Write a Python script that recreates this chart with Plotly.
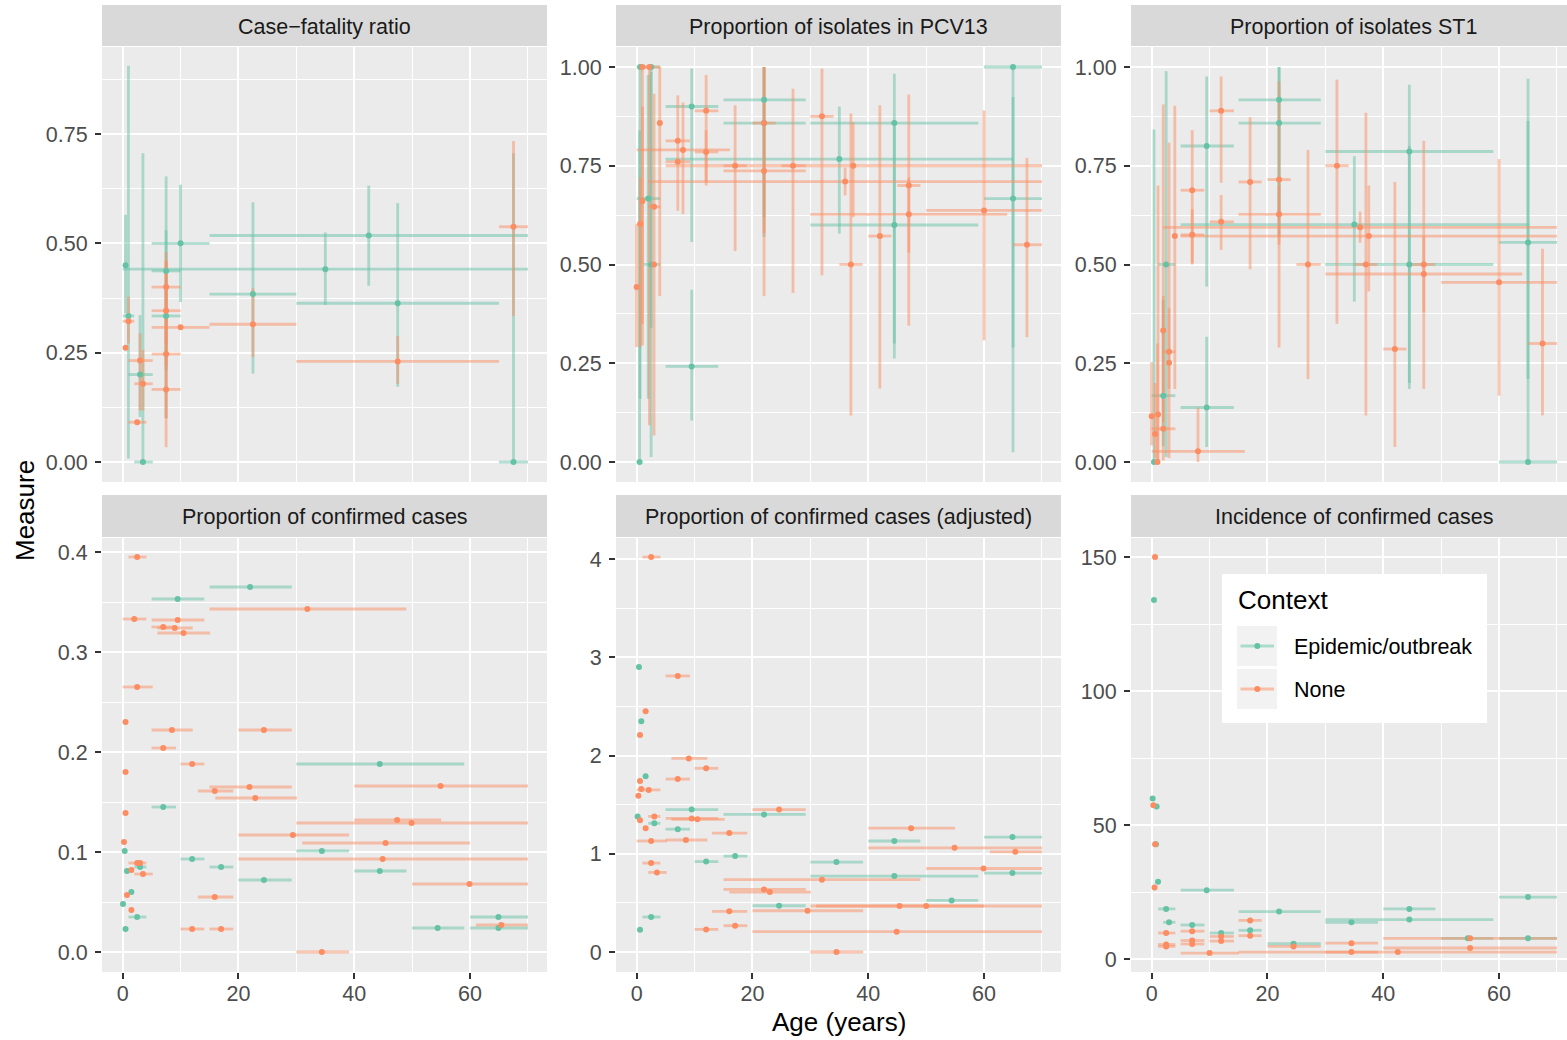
import plotly.graph_objects as go

W, H = 1567, 1040
TEAL = "#66C2A5"
ORANGE = "#FC8D62"
TEAL_A = "rgba(102,194,165,0.5)"
ORANGE_A = "rgba(252,141,98,0.5)"
FONT = "Liberation Sans, Arial, Helvetica, sans-serif"

# ---------------- data: (age, age_lo, age_hi, value, ci_lo, ci_hi) ----------------
panel_titles = ["Case\u2212fatality ratio", "Proportion of isolates in PCV13", "Proportion of isolates ST1",
                "Proportion of confirmed cases", "Proportion of confirmed cases (adjusted)",
                "Incidence of confirmed cases"]
context_labels = ["Epidemic/outbreak", "None"]

cfr_epi = [
    (0.5, None, None, 0.45, 0.34, 0.565), (1.0, 0, 2, 0.334, 0.008, 0.906),
    (3.5, 2, 5.2, 0.0, 0.0, 0.706), (3.0, 1, 5.2, 0.2, 0.103, 0.336),
    (7.5, 5, 10, 0.437, 0.21, 0.653), (7.5, 5, 10, 0.334, 0.1, 0.53),
    (10.0, 5, 15, 0.5, 0.366, 0.634), (22.5, 15, 30, 0.384, 0.202, 0.594),
    (35.0, 0, 70, 0.441, 0.359, 0.525), (42.5, 15, 70, 0.518, 0.403, 0.632),
    (47.5, 30, 65, 0.363, 0.172, 0.592), (67.5, 65, 70, 0.0, 0.0, 0.706),
]
cfr_none = [
    (0.5, None, None, 0.261, None, None), (1.0, 0, 2, 0.322, 0.271, 0.378),
    (2.5, 1, 4.1, 0.091, None, None), (3.0, 1, 5.2, 0.232, 0.118, 0.294),
    (3.5, 2, 5.2, 0.179, 0.118, 0.256), (7.5, 5, 10, 0.4, 0.27, 0.48),
    (7.5, 5, 10, 0.346, 0.22, 0.46), (7.5, 5, 10, 0.247, 0.1, 0.4),
    (7.5, 5, 10, 0.166, 0.034, 0.46), (10.0, 5, 15, 0.308, None, None),
    (22.5, 15, 30, 0.315, 0.24, 0.397), (47.5, 30, 65, 0.23, 0.179, 0.288),
    (67.5, 65, 70, 0.538, 0.334, 0.734),
]
pcv_epi = [
    (0.5, None, None, 0.0, 0.0, 0.84), (0.6, None, None, 1.0, 0.16, 1.0),
    (2.5, 1.2, 4.0, 1.0, 0.34, 1.0), (2.0, 0, 4.1, 0.667, 0.16, 0.98),
    (2.5, 1.2, 4.1, 0.5, 0.013, 0.987), (9.5, 5, 14.1, 0.9, 0.557, 0.996),
    (9.5, 5, 14.1, 0.242, 0.105, 0.436), (22.0, 15, 29.2, 0.917, 0.62, 1.0),
    (22.0, 15, 29.2, 0.858, 0.57, 1.0), (35.0, 5, 65, 0.767, 0.578, 0.9),
    (44.5, 30, 59, 0.858, 0.262, 0.983), (44.5, 30, 59, 0.6, 0.3, 0.85),
    (65.0, 60, 70, 1.0, 0.29, 1.0), (65.0, 60, 70, 0.667, 0.025, 0.924),
]
pcv_none = [
    (0.0, None, None, 0.443, 0.291, 0.603), (0.6, None, None, 0.603, 0.29, 0.72),
    (1.0, None, None, 1.0, 0.295, 1.0), (1.0, None, None, 0.661, 0.35, 0.9),
    (2.2, 0, 4.1, 1.0, 0.093, 1.0), (3.0, 2, 4.1, 0.646, 0.067, 0.932),
    (3.0, None, None, 0.5, None, None), (4.0, None, None, 0.858, 0.42, 1.0),
    (7.1, 5, 9.2, 0.813, 0.636, 0.928), (8.0, 0, 16.1, 0.79, 0.628, 0.91),
    (7.1, 5, 9.2, 0.76, None, None), (12.0, 10, 14.1, 0.889, 0.7, 0.98),
    (12.0, 10, 14.1, 0.785, 0.709, 0.84), (17.0, 15, 19, 0.75, 0.534, 0.903),
    (22.0, 15, 29.2, 0.737, 0.42, 1.0), (22.0, 20, 24, 0.858, 0.58, 1.0),
    (27.0, 25, 29.2, 0.75, 0.428, 0.945), (32.0, 30, 34, 0.875, 0.473, 0.996),
    (36.0, 2, 70, 0.71, 0.675, 0.745), (37.4, 5, 70, 0.75, 0.62, 0.86),
    (37.0, 35, 39, 0.5, 0.118, 0.882), (42.0, 40, 44, 0.572, 0.186, 0.903),
    (47.0, 45, 49, 0.7, 0.345, 0.93), (47.0, 30, 64, 0.627, 0.53, 0.72),
    (60.0, 50, 70, 0.637, 0.308, 0.89), (67.4, 65, 70, 0.55, 0.316, 0.77),
]
st1_epi = [
    (0.4, None, None, 0.0, 0.0, 0.842), (2.0, 0, 4.1, 0.168, 0.04, 0.41),
    (2.5, 1.1, 4.1, 0.5, 0.013, 0.989), (9.5, 5, 14.2, 0.8, 0.444, 0.976),
    (9.5, 5, 14.2, 0.138, 0.038, 0.317), (22.0, 15, 29.2, 0.917, 0.62, 1.0),
    (22.0, 15, 29.2, 0.858, 0.57, 1.0), (35.0, 5, 65.2, 0.601, 0.406, 0.774),
    (44.5, 30, 59, 0.786, 0.185, 0.955), (44.5, 30, 59, 0.5, 0.2, 0.8),
    (65.0, 60, 70, 0.556, 0.21, 0.863), (65.0, 60, 70, 0.0, 0.0, 0.97),
]
st1_none = [
    (0.0, None, None, 0.116, 0.042, 0.253), (0.6, None, None, 0.071, 0.01, 0.2),
    (1.1, None, None, 0.12, 0.0, 0.7), (1.0, None, None, 0.0, 0.0, 0.3),
    (2.0, None, None, 0.333, 0.1, 0.42), (2.0, 0, 4.1, 0.084, 0.004, 0.905),
    (3.0, 2, 4.1, 0.279, 0.185, 0.39), (3.0, None, None, 0.251, 0.01, 0.808),
    (4.0, None, None, 0.572, 0.185, 0.902), (7.0, 5, 9.1, 0.688, 0.503, 0.84),
    (7.0, 5, 9.1, 0.575, 0.5, 0.64), (12.0, 10, 14.2, 0.889, 0.707, 0.976),
    (12.0, 10, 14.2, 0.608, 0.537, 0.676), (17.0, 15, 19, 0.709, 0.488, 0.873),
    (22.0, 20, 24, 0.715, 0.29, 0.964), (22.0, 15, 29.2, 0.627, 0.55, 0.7),
    (27.0, 25, 29.2, 0.5, 0.21, 0.79), (32.0, 30, 34, 0.75, 0.35, 0.968),
    (36.0, 2, 70, 0.594, 0.555, 0.634), (37.5, 5, 70, 0.572, 0.432, 0.7),
    (37.0, 35, 39, 0.5, 0.118, 0.884), (42.0, 40, 44, 0.286, 0.038, 0.709),
    (47.0, 45, 49, 0.5, 0.185, 0.813), (47.0, 30, 64, 0.476, 0.38, 0.57),
    (60.0, 50, 70, 0.455, 0.168, 0.767), (67.5, 65, 70, 0.3, 0.118, 0.54),
    (8.0, 0, 16.1, 0.027, 0.0, 0.138),
]
prop_epi = [
    (22.0, 15, 29.2, 0.365), (9.5, 5, 14.1, 0.353), (44.4, 30, 59, 0.188),
    (7.0, 5, 9.2, 0.145), (0.35, None, None, 0.101), (34.4, 30, 39.1, 0.101),
    (12.0, 10, 14.1, 0.093), (17.0, 15, 19.1, 0.085), (3.0, 2, 4.1, 0.085),
    (0.75, None, None, 0.081), (44.4, 40, 49, 0.081), (24.4, 20, 29.2, 0.072),
    (1.5, None, None, 0.06), (0.06, None, None, 0.048), (2.5, 1, 4.1, 0.035),
    (0.5, None, None, 0.023), (54.4, 50, 59, 0.024), (64.9, 60, 70, 0.035),
    (64.9, 60, 70, 0.024),
]
prop_none = [
    (2.5, 1, 4.1, 0.395), (31.9, 15, 49, 0.343), (2.0, 0, 4.1, 0.333),
    (9.5, 5, 14.1, 0.332), (7.0, 5, 9.2, 0.325), (9.0, 6, 12.1, 0.324),
    (10.5, 6, 15.1, 0.319), (2.5, 0, 5.2, 0.265), (0.5, None, None, 0.23),
    (8.5, 5, 12.1, 0.222), (24.4, 20, 29.2, 0.222), (7.0, 5, 9.2, 0.204),
    (12.0, 10, 14.1, 0.188), (0.5, None, None, 0.18), (21.9, 15, 29.2, 0.165),
    (15.9, 13, 19.1, 0.161), (54.9, 40, 70, 0.166), (22.9, 16, 30.1, 0.154),
    (0.5, None, None, 0.139), (47.4, 40, 55, 0.132), (49.9, 30, 70, 0.129),
    (29.4, 20, 39.1, 0.117), (45.4, 31, 60, 0.109), (0.23, None, None, 0.11),
    (44.9, 20, 70, 0.093), (3.0, 1, 4.1, 0.089), (2.5, None, None, 0.089),
    (1.5, None, None, 0.082), (3.5, 2, 5.2, 0.078), (0.75, None, None, 0.057),
    (15.9, 13, 19.1, 0.055), (59.9, 50, 70, 0.068), (1.5, None, None, 0.042),
    (12.0, 10, 14.1, 0.023), (17.0, 15, 19.1, 0.023), (65.4, 61, 70, 0.027),
    (34.4, 30, 39.1, 0.0),
]
adj_epi = [
    (0.4, None, None, 2.9), (0.8, None, None, 2.35), (1.55, None, None, 1.79),
    (9.5, 5, 14.1, 1.45), (22.0, 15, 29.2, 1.4), (0.17, None, None, 1.38),
    (3.05, 2, 4.1, 1.31), (7.1, 5, 9.2, 1.25), (64.9, 60, 70, 1.17),
    (44.5, 40, 49, 1.13), (17.0, 15, 19.1, 0.976), (12.0, 10, 14.1, 0.92),
    (34.5, 30, 39.1, 0.915), (44.5, 30, 59, 0.773), (64.9, 60, 70, 0.803),
    (54.4, 50, 59, 0.525), (24.6, 20, 29.2, 0.471), (2.5, 1, 4.1, 0.356),
    (0.58, None, None, 0.227),
]
adj_none = [
    (2.5, 1, 4.1, 4.02), (7.1, 5, 9.2, 2.81), (1.55, None, None, 2.45),
    (0.58, None, None, 2.21), (9.0, 6, 12.2, 1.97), (12.0, 10, 14.1, 1.87),
    (7.1, 5, 9.2, 1.76), (0.58, None, None, 1.74), (0.8, None, None, 1.66),
    (2.07, 0, 4.1, 1.65), (0.29, None, None, 1.59), (24.6, 20, 29.2, 1.45),
    (3.05, 2, 4.1, 1.38), (9.5, 5, 14.1, 1.36), (10.5, 6, 15.2, 1.35),
    (0.58, None, None, 1.34), (1.55, None, None, 1.26), (16.0, 13, 19.1, 1.21),
    (47.4, 40, 55, 1.26), (2.5, 0, 5.2, 1.13), (8.5, 5, 12.2, 1.14),
    (54.9, 40, 70, 1.06), (65.4, 61, 70, 1.02), (2.5, 1, 4.1, 0.905),
    (3.5, 2, 5.2, 0.81), (59.9, 50, 70, 0.85), (32.0, 15, 49, 0.736),
    (22.0, 15, 29.2, 0.637), (23.0, 16, 30.1, 0.61), (29.5, 20, 39.1, 0.42),
    (45.4, 31, 60, 0.468), (50.0, 30, 70, 0.468), (16.0, 13, 19.1, 0.414),
    (17.0, 15, 19.1, 0.268), (12.0, 10, 14.1, 0.23), (44.9, 20, 70, 0.207),
    (34.5, 30, 39.1, 0.0),
]
inc_epi = [
    (0.4, None, None, 134), (0.17, None, None, 59.9), (0.86, None, None, 56.9),
    (0.75, None, None, 42.8), (1.1, None, None, 28.8), (2.5, 1.1, 4.1, 18.7),
    (3.0, 2, 4.1, 13.7), (7.0, 5, 9.1, 12.7), (12.0, 10, 14.2, 9.7),
    (9.5, 5, 14.2, 25.7), (17.0, 15, 19, 10.7), (22.0, 15, 29.2, 17.7),
    (24.5, 20, 29.2, 5.7), (34.5, 30, 39.1, 13.7), (44.5, 40, 49, 18.7),
    (44.5, 30, 59, 14.7), (54.6, 50, 59, 7.7), (65.0, 60, 70, 23.1),
    (65.0, 60, 70, 7.7),
]
inc_none = [
    (0.58, None, None, 150), (0.29, None, None, 57.4), (0.6, None, None, 42.8),
    (0.5, None, None, 26.7), (2.5, 1.1, 4.1, 9.7), (2.5, 1.1, 4.1, 5.4),
    (2.5, 1.1, 4.1, 4.7), (7.0, 5, 9.1, 10.4), (7.0, 5, 9.1, 6.9),
    (7.0, 5, 9.1, 5.6), (12.0, 10, 14.2, 8.4), (12.0, 10, 14.2, 6.7),
    (10.0, 5, 15.1, 2.2), (17.0, 15, 19, 14.4), (17.0, 15, 19, 8.7),
    (24.5, 20, 29.2, 4.7), (34.5, 30, 39.1, 5.9), (34.5, 30, 39.1, 2.6),
    (42.5, 15, 70, 2.6), (55.0, 40, 70, 4.1), (55.0, 40, 70, 7.7),
]

x_ticks = [0, 20, 40, 60]
y_ticks = [[0, 0.25, 0.5, 0.75], [0, 0.25, 0.5, 0.75, 1.0], [0, 0.25, 0.5, 0.75, 1.0],
           [0, 0.1, 0.2, 0.3, 0.4], [0, 1, 2, 3, 4], [0, 50, 100, 150]]
y_formats = [".2f", ".2f", ".2f", ".1f", "d", "d"]
y_ranges = [[-0.0457, 0.949], [-0.0506, 1.0506], [-0.0506, 1.0506],
            [-0.02, 0.414], [-0.2036, 4.214], [-4.85, 157.09]]

panels = [(cfr_epi, cfr_none), (pcv_epi, pcv_none), (st1_epi, st1_none),
          (prop_epi, prop_none), (adj_epi, adj_none), (inc_epi, inc_none)]

# ---------------- layout geometry (pixels) ----------------
col_x = [(102, 547), (616, 1061), (1131, 1567)]
row_y = [(47, 482), (538, 972)]
strip_y = [(5, 46), (495, 537)]
PXU = 5.79
X0 = -3.57


def fx(px):
    return px / W


def fy(py):
    return 1 - py / H


fig = go.Figure()

error_traces = []
point_traces = []
for i, (epi, none) in enumerate(panels):
    ax = "" if i == 0 else str(i + 1)
    for data, col, cola, name in [(epi, TEAL, TEAL_A, context_labels[0]),
                                   (none, ORANGE, ORANGE_A, context_labels[1])]:
        xs = [d[0] for d in data]
        ys = [d[3] for d in data]
        ex_p = [(d[2] - d[0]) if d[2] is not None else 0 for d in data]
        ex_m = [(d[0] - d[1]) if d[1] is not None else 0 for d in data]
        tr = dict(x=xs, y=ys, mode="markers", xaxis="x" + ax, yaxis="y" + ax,
                  marker=dict(size=1, color="rgba(0,0,0,0)"), showlegend=False,
                  hoverinfo="skip",
                  error_x=dict(type="data", symmetric=False, array=ex_p, arrayminus=ex_m,
                               color=cola, thickness=2.8, width=0))
        if len(data[0]) == 6:
            ey_p = [(d[5] - d[3]) if d[5] is not None else 0 for d in data]
            ey_m = [(d[3] - d[4]) if d[4] is not None else 0 for d in data]
            tr["error_y"] = dict(type="data", symmetric=False, array=ey_p, arrayminus=ey_m,
                                 color=cola, thickness=2.8, width=0)
        error_traces.append(go.Scatter(**tr))
        point_traces.append(go.Scatter(x=xs, y=ys, mode="markers", xaxis="x" + ax,
                                       yaxis="y" + ax, name=name, showlegend=False,
                                       marker=dict(size=6, color=col, line=dict(width=0))))

for t in error_traces:
    fig.add_trace(t)
for t in point_traces:
    fig.add_trace(t)

layout = dict(width=W, height=H, margin=dict(l=0, r=0, t=0, b=0),
              paper_bgcolor="white", plot_bgcolor="#EBEBEB", showlegend=False,
              font=dict(family=FONT, color="#4D4D4D"))

shapes = []
annotations = []
for i in range(6):
    r, c = divmod(i, 3)
    ax = "" if i == 0 else str(i + 1)
    x0p, x1p = col_x[c]
    y0p, y1p = row_y[r]
    xr = [X0, X0 + (x1p - x0p) / PXU]
    bottom = r == 1
    layout["xaxis" + ax] = dict(
        domain=[fx(x0p), fx(x1p)], range=xr, anchor="y" + ax,
        tickvals=x_ticks, showticklabels=bottom, ticks="outside" if bottom else "",
        ticklen=6, tickwidth=2.2, tickcolor="#333333", ticklabelstandoff=-4,
        tickfont=dict(family=FONT, size=21.5, color="#4D4D4D"),
        showgrid=True, gridcolor="white", gridwidth=2.3, zeroline=False, showline=False,
        minor=dict(tickvals=[10, 30, 50, 70], showgrid=True, gridcolor="white", gridwidth=1.15, ticks=""),
        fixedrange=True)
    yt = y_ticks[i]
    step = yt[1] - yt[0]
    minor_vals = [v + step / 2 for v in yt] + [yt[0] - step / 2]
    layout["yaxis" + ax] = dict(
        domain=[fy(y1p), fy(y0p)], range=y_ranges[i], anchor="x" + ax,
        tickvals=yt, tickformat=y_formats[i], ticks="outside", ticklen=6, tickwidth=2.2,
        tickcolor="#333333", ticklabelstandoff=3,
        tickfont=dict(family=FONT, size=21.5, color="#4D4D4D"),
        showgrid=True, gridcolor="white", gridwidth=2.3, zeroline=False, showline=False,
        minor=dict(tickvals=minor_vals, showgrid=True, gridcolor="white", gridwidth=1.15, ticks=""),
        fixedrange=True)
    sy0, sy1 = strip_y[r]
    shapes.append(dict(type="rect", xref="paper", yref="paper", x0=fx(x0p), x1=fx(x1p),
                       y0=fy(sy1), y1=fy(sy0), fillcolor="#D9D9D9", line=dict(width=0),
                       layer="below"))
    full_right = x0p + 445
    annotations.append(dict(text=panel_titles[i], xref="paper", yref="paper",
                            x=fx((x0p + full_right) / 2), y=fy((sy0 + sy1) / 2 + 1),
                            xanchor="center", yanchor="middle", showarrow=False,
                            font=dict(family=FONT, size=21.5, color="#1A1A1A")))

# axis titles
annotations.append(dict(text="Age (years)", xref="paper", yref="paper", x=fx(839), y=fy(1022),
                        xanchor="center", yanchor="middle", showarrow=False,
                        font=dict(family=FONT, size=26, color="black")))
annotations.append(dict(text="Measure", xref="paper", yref="paper", x=fx(25), y=fy(510),
                        xanchor="center", yanchor="middle", showarrow=False, textangle=-90,
                        font=dict(family=FONT, size=26, color="black")))

# legend (drawn manually, ggplot style)
shapes.append(dict(type="rect", xref="paper", yref="paper", x0=fx(1222), x1=fx(1487),
                   y0=fy(723), y1=fy(574), fillcolor="white", line=dict(width=0), layer="above"))
annotations.append(dict(text="Context", xref="paper", yref="paper", x=fx(1236), y=fy(600),
                        xanchor="left", yanchor="middle", showarrow=False,
                        font=dict(family=FONT, size=26, color="black")))
for k, (lab, col, cola) in enumerate([(context_labels[0], TEAL, "#A9DCCB"),
                                      (context_labels[1], ORANGE, "#F7BFA8")]):
    ky0 = 626 + k * 43
    kc = ky0 + 20
    shapes.append(dict(type="rect", xref="paper", yref="paper", x0=fx(1237), x1=fx(1277),
                       y0=fy(ky0 + 40), y1=fy(ky0), fillcolor="#F2F2F2", line=dict(width=0),
                       layer="above"))
    shapes.append(dict(type="line", xref="paper", yref="paper", x0=fx(1240.5), x1=fx(1274),
                       y0=fy(kc), y1=fy(kc), line=dict(color=cola, width=3), layer="above"))
    shapes.append(dict(type="circle", xref="paper", yref="paper", x0=fx(1254.3), x1=fx(1260.3),
                       y0=fy(kc + 3), y1=fy(kc - 3), fillcolor=col, line=dict(width=0),
                       layer="above"))
    annotations.append(dict(text=lab, xref="paper", yref="paper", x=fx(1292), y=fy(kc + 1),
                            xanchor="left", yanchor="middle", showarrow=False,
                            font=dict(family=FONT, size=21.5, color="black")))

layout["shapes"] = shapes
layout["annotations"] = annotations
fig.update_layout(**layout)
fig.write_html("out.html")
